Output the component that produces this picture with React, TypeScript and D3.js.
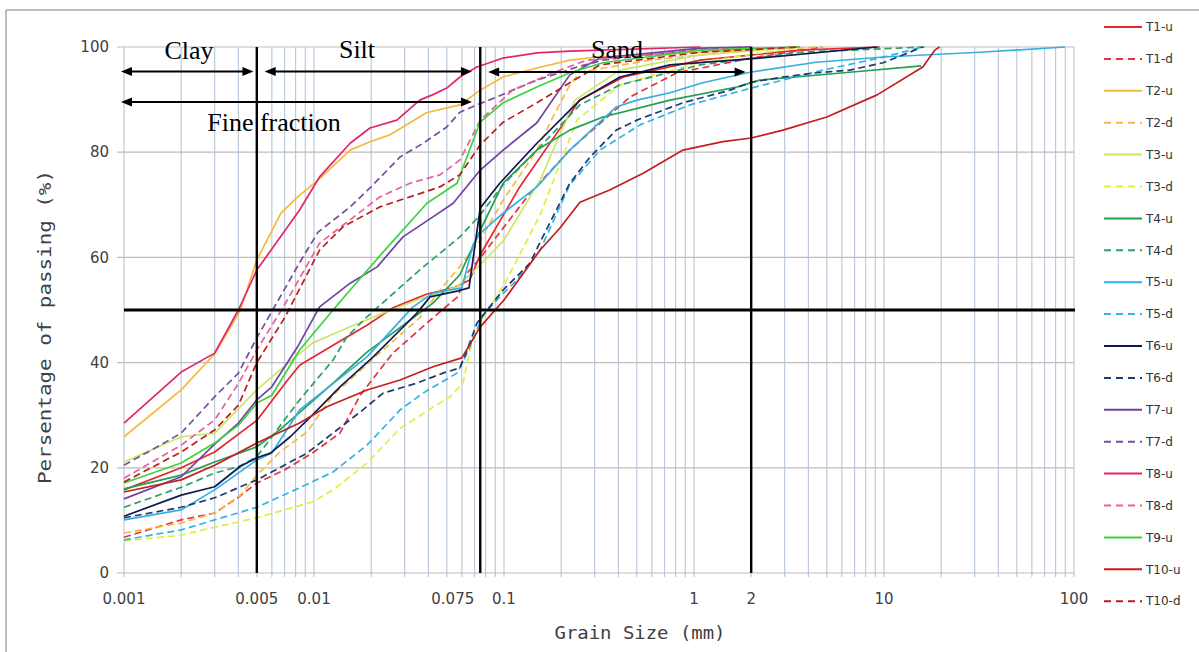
import React from 'react';
import * as d3 from 'd3';

type Pt = [number, number];

// ---- axis ticks ----
const xTickValues = [0.001, 0.005, 0.01, 0.075, 0.1, 1, 2, 10, 100];
const xTickLabels = ['0.001', '0.005', '0.01', '0.075', '0.1', '1', '2', '10', '100'];
const yTickValues = [0, 20, 40, 60, 80, 100];

// ---- grain size distributions: [size (mm), percent passing] ----
const T1u: Pt[] = [[0.001,15.8],[0.002,20],[0.003,23],[0.005,29],[0.0072,36.5],[0.0084,39.5],[0.0126,43.3],[0.019,47.1],[0.026,50.4],[0.039,53],[0.054,54.2],[0.066,55.7],[0.075,60.5],[0.121,73.4],[0.25,89.9],[0.425,94.3],[1.08,97.5],[3.6,99.4],[9.5,100]];
const T1d: Pt[] = [[0.001,6.8],[0.002,10.1],[0.003,11.4],[0.004,14.4],[0.005,17.1],[0.007,19.6],[0.0098,22.8],[0.0137,26.6],[0.0175,33.8],[0.026,41.8],[0.041,48.1],[0.057,52.5],[0.064,57],[0.075,59.9],[0.137,72.2],[0.222,80.4],[0.46,90.5],[0.815,95.1],[2,97.9],[4.75,100]];
const T2u: Pt[] = [[0.001,25.9],[0.002,34.8],[0.0028,40.5],[0.003,41.6],[0.0041,50],[0.005,59.5],[0.0067,68.4],[0.0082,71.5],[0.0105,74.7],[0.0155,80.4],[0.0197,82],[0.0251,83.3],[0.032,85.6],[0.039,87.5],[0.0586,89],[0.075,91.8],[0.099,94.3],[0.149,96],[0.222,97.5],[0.31,98.1],[1.08,99],[3.6,100]];
const T2d: Pt[] = [[0.001,7.6],[0.002,9.5],[0.003,11.4],[0.0041,14.8],[0.005,18.6],[0.0066,23],[0.0092,26.8],[0.0126,33.8],[0.0215,41.4],[0.036,48.5],[0.046,53.8],[0.0566,57.6],[0.075,63.3],[0.099,70.9],[0.149,80.4],[0.181,86.7],[0.222,92.8],[0.251,95.2],[0.586,97.5],[2,99.4],[4.75,100]];
const T3u: Pt[] = [[0.001,21.1],[0.002,25.9],[0.003,26.6],[0.005,34.8],[0.006,37.3],[0.0098,43.7],[0.0155,46.8],[0.0231,49.4],[0.0348,51.9],[0.0566,54.4],[0.075,58.6],[0.1,63.3],[0.155,74.7],[0.236,89.9],[0.408,95.6],[1.08,98.5],[3.6,100]];
const T3d: Pt[] = [[0.001,6.1],[0.002,7.2],[0.003,8.7],[0.005,10.5],[0.0098,13.5],[0.0126,15.8],[0.019,20.9],[0.0284,27.5],[0.0423,31.5],[0.052,33.5],[0.0608,36.1],[0.0662,42.4],[0.075,47.7],[0.1,54.8],[0.155,68.1],[0.242,86.1],[0.408,92.8],[1.08,97.1],[3.6,100]];
const T4u: Pt[] = [[0.001,16],[0.002,18.6],[0.003,21.1],[0.005,24],[0.0066,27.2],[0.0126,36.1],[0.019,42],[0.0423,51.3],[0.0586,56.7],[0.075,65.2],[0.099,74.1],[0.149,80.4],[0.222,84.2],[0.332,86.7],[0.748,89.9],[1.68,92.4],[2.22,93.7],[6.6,95.2],[15.7,96.4]];
const T4d: Pt[] = [[0.001,12.5],[0.002,16.3],[0.003,19],[0.004,20.2],[0.005,22.1],[0.0084,32.9],[0.0126,40.5],[0.0149,44.9],[0.019,48.7],[0.036,57.6],[0.0586,63.9],[0.075,68.1],[0.099,73.8],[0.149,80.4],[0.251,89],[0.408,92.8],[1.08,96.6],[3.6,99],[16.4,100]];
const T5u: Pt[] = [[0.001,10.1],[0.002,12],[0.003,15.8],[0.005,21.5],[0.006,22.8],[0.0084,31],[0.019,41.1],[0.0332,50.6],[0.0423,53.2],[0.06,54.2],[0.0687,62.4],[0.075,64.6],[0.099,68.4],[0.149,73.4],[0.222,80.4],[0.39,88.6],[0.5,89.9],[0.748,91.3],[1.11,93.2],[1.97,95.2],[4.4,97.1],[9.9,98.1],[32,99],[89.7,100]];
const T5d: Pt[] = [[0.001,6.3],[0.002,8.2],[0.003,10.1],[0.005,12.5],[0.0084,16.2],[0.0126,19.2],[0.019,24.3],[0.0284,31],[0.0375,34.2],[0.046,36.1],[0.0566,38],[0.064,41.8],[0.0775,49],[0.095,52.5],[0.117,55.7],[0.155,61.4],[0.222,73.8],[0.32,80.4],[0.52,85.2],[0.953,89],[2,92.2],[4.75,95.6],[9.5,97.9],[16,100]];
const T6u: Pt[] = [[0.001,10.8],[0.002,14.8],[0.003,16.4],[0.0041,20.3],[0.005,21.9],[0.0059,22.8],[0.0075,25.9],[0.0098,30],[0.0137,35.4],[0.0205,41.1],[0.0284,46.2],[0.0348,49.4],[0.0408,52.5],[0.0566,53.6],[0.0654,54.2],[0.075,69.4],[0.095,74.1],[0.149,81.7],[0.251,89.9],[0.408,94.3],[0.748,96.6],[2.22,97.9],[9.2,100]];
const T6d: Pt[] = [[0.001,10.5],[0.002,12.5],[0.003,14.3],[0.005,17.7],[0.0092,22.8],[0.0175,30.6],[0.0231,34.2],[0.0348,36.1],[0.0477,38],[0.0586,39],[0.064,42.4],[0.072,47.5],[0.084,50.6],[0.099,53.8],[0.137,58.9],[0.16,63.9],[0.222,74.1],[0.284,79.1],[0.39,84.2],[0.5,86.1],[0.875,89.4],[1.55,91.8],[2,93.3],[2.94,94.3],[4.4,95.1],[6.6,95.6],[9.9,97],[16,100]];
const T7u: Pt[] = [[0.001,14.1],[0.002,18.3],[0.003,24.5],[0.004,28.5],[0.005,32.9],[0.006,35.4],[0.0082,43],[0.0107,50.6],[0.0155,55.1],[0.0215,58.2],[0.0294,63.9],[0.0423,67.7],[0.054,70.3],[0.075,76.6],[0.099,80.4],[0.149,85.6],[0.222,94.7],[0.32,97.9],[1.08,99.8],[2,100]];
const T7d: Pt[] = [[0.001,20.5],[0.0015,24],[0.002,26.6],[0.003,33.5],[0.004,38],[0.005,44.7],[0.0084,59],[0.0105,64.8],[0.0155,69.6],[0.0197,73.2],[0.0284,79.1],[0.0375,81.7],[0.05,84.8],[0.0586,87.6],[0.072,89],[0.0918,90.5],[0.111,91.8],[0.149,93.7],[0.197,95.1],[0.242,96.2],[0.332,97.5],[1.08,99.6],[2,100]];
const T8u: Pt[] = [[0.001,28.5],[0.002,38.2],[0.003,41.8],[0.004,50],[0.005,57.6],[0.0084,69],[0.0107,75.3],[0.0155,81.7],[0.0197,84.6],[0.0273,86.1],[0.036,89.9],[0.042,90.9],[0.05,92.2],[0.0586,94.3],[0.072,96.2],[0.099,97.9],[0.149,98.9],[0.222,99.2],[1.08,100]];
const T8d: Pt[] = [[0.001,18],[0.002,24.3],[0.003,29.1],[0.004,36],[0.005,42.4],[0.007,51],[0.0107,62.7],[0.0222,71.5],[0.032,74.1],[0.046,75.7],[0.0586,78.5],[0.075,86.1],[0.111,91.8],[0.181,95.1],[0.273,97.5],[1.08,99.4],[3.6,100]];
const T9u: Pt[] = [[0.001,17.1],[0.002,20.9],[0.003,24.7],[0.004,28.1],[0.005,32.3],[0.006,33.8],[0.0084,42.4],[0.0126,50],[0.0155,53.8],[0.0231,61],[0.0393,70.3],[0.0566,74.1],[0.0748,85.7],[0.099,89.4],[0.149,92.4],[0.222,95.1],[0.332,97],[1.08,99.4],[3.6,100]];
const T10u: Pt[] = [[0.001,15.4],[0.002,17.7],[0.003,20.5],[0.005,24.7],[0.0084,28.5],[0.0117,31.6],[0.019,34.8],[0.0284,36.7],[0.0423,39.2],[0.06,40.9],[0.075,46.8],[0.1,51.9],[0.155,61.4],[0.197,65.6],[0.251,70.5],[0.36,72.8],[0.54,76],[0.875,80.4],[1.42,82],[2,82.7],[2.94,84.2],[5,86.7],[9.2,90.9],[16,96.2],[18.5,99.4],[19.6,100]];
const T10d: Pt[] = [[0.001,17.3],[0.002,23],[0.003,27.2],[0.004,31.9],[0.005,40],[0.007,48.5],[0.0107,61.4],[0.0142,65.8],[0.0222,69.6],[0.046,73.4],[0.0586,75.7],[0.075,81.4],[0.099,85.7],[0.149,89.4],[0.222,93.2],[0.32,96.6],[1.08,99],[3.6,100]];

const seriesNames = ['T1-u','T1-d','T2-u','T2-d','T3-u','T3-d','T4-u','T4-d','T5-u','T5-d','T6-u','T6-d','T7-u','T7-d','T8-u','T8-d','T9-u','T10-u','T10-d'];
const seriesData = [T1u,T1d,T2u,T2d,T3u,T3d,T4u,T4d,T5u,T5d,T6u,T6d,T7u,T7d,T8u,T8d,T9u,T10u,T10d];
const seriesColors = ['#e8262c','#e3333f','#f5b83d','#f5bb45','#cfe566','#e0ee3c','#21a04d','#2e9e6b','#35b0e0','#2fb5e6','#0e1b4d','#1f3a6e','#7142a0','#7a4c9c','#e3266a','#e8609a','#3dd33d','#c41e1e','#bb1d1d'];
const seriesDashed = [false,true,false,true,false,true,false,true,false,true,false,true,false,true,false,true,false,false,true];

// reference boundaries (mm, %)
const boundarySizes = [0.005, 0.075, 2];
const boundaryPercent = 50;

const Arrow = ({ x1, x2, yy }: { x1: number; x2: number; yy: number }) => {
  const L = 11, h = 4.5;
  return (
    <g>
      <line x1={x1 + 4} x2={x2 - 4} y1={yy} y2={yy} stroke="#000" strokeWidth={2.2} />
      <polygon points={`${x1},${yy} ${x1 + L},${yy - h} ${x1 + L},${yy + h}`} fill="#000" />
      <polygon points={`${x2},${yy} ${x2 - L},${yy - h} ${x2 - L},${yy + h}`} fill="#000" />
    </g>
  );
};

export default function App() {
  const x = d3.scaleLog().domain([0.001, 100]).range([124, 1074]);
  const y = d3.scaleLinear().domain([0, 100]).range([573, 47]);
  const line = d3.line<Pt>().x(d => x(d[0])).y(d => y(d[1]));

  const minor: number[] = [];
  [0.001, 0.01, 0.1, 1, 10].forEach(d => {
    for (let k = 1; k <= 9; k++) minor.push(d * k);
  });
  minor.push(100);

  const tickFont = 'DejaVu Sans, Verdana, sans-serif';
  const serif = 'Liberation Serif, Times New Roman, serif';
  const mono = 'DejaVu Sans Mono, monospace';

  return (
    <svg width={1199} height={652} style={{ position: 'absolute', left: 0, top: 0, background: '#fff' }}>
      <rect x={0} y={0} width={1199} height={652} fill="#fff" />
      {/* outer frame */}
      <line x1={6} x2={1199} y1={10} y2={10} stroke="#a8a8a8" strokeWidth={1.5} />
      <line x1={6} x2={6} y1={10} y2={652} stroke="#a8a8a8" strokeWidth={1.5} />

      {/* grid */}
      {minor.map((v, i) => (
        <line key={'vx' + i} x1={x(v)} x2={x(v)} y1={y(100)} y2={y(0) + 4} stroke="#bccadb" strokeWidth={1.2} />
      ))}
      {yTickValues.map(v => (
        <line key={'hy' + v} x1={x(0.001) - 7} x2={x(100)} y1={y(v)} y2={y(v)} stroke="#bdbdbd" strokeWidth={1.2} />
      ))}

      {/* series */}
      {seriesData.map((d, i) => (
        <path key={seriesNames[i]} d={line(d) || ''} fill="none" stroke={seriesColors[i]} strokeWidth={1.7}
          strokeDasharray={seriesDashed[i] ? '7,4' : undefined} strokeLinejoin="round" />
      ))}

      {/* boundaries */}
      {boundarySizes.map(v => (
        <line key={'b' + v} x1={x(v)} x2={x(v)} y1={y(100)} y2={y(0)} stroke="#000" strokeWidth={2.4} />
      ))}
      <line x1={x(0.001)} x2={x(100) + 1} y1={y(boundaryPercent)} y2={y(boundaryPercent)} stroke="#000" strokeWidth={3} />

      {/* annotations */}
      <Arrow x1={x(0.001) - 3} x2={x(0.0048)} yy={71.5} />
      <Arrow x1={x(0.0055)} x2={x(0.0678)} yy={71.5} />
      <Arrow x1={x(0.0825)} x2={x(1.87)} yy={72} />
      <Arrow x1={x(0.001) - 3} x2={x(0.0678)} yy={102} />
      <text x={189} y={59} fontFamily={serif} fontSize={26} textAnchor="middle" fill="#000">Clay</text>
      <text x={357} y={58} fontFamily={serif} fontSize={26} textAnchor="middle" fill="#000">Silt</text>
      <text x={617} y={58} fontFamily={serif} fontSize={26} textAnchor="middle" fill="#000">Sand</text>
      <text x={274} y={131} fontFamily={serif} fontSize={26} textAnchor="middle" fill="#000">Fine fraction</text>

      {/* y tick labels */}
      {yTickValues.map(v => (
        <text key={'yl' + v} x={109} y={y(v)} dy="0.35em" textAnchor="end" fontFamily={tickFont} fontSize={15} fill="#404040">{v}</text>
      ))}
      {/* x tick labels */}
      {xTickValues.map((v, i) => (
        <text key={'xl' + v} x={v === 0.075 ? x(v) - 6 : x(v)} y={599} dy="0.35em"
          textAnchor={v === 0.075 ? 'end' : 'middle'} fontFamily={tickFont} fontSize={15} fill="#404040">{xTickLabels[i]}</text>
      ))}

      {/* axis titles */}
      <text x={640} y={633} dy="0.35em" textAnchor="middle" fontFamily={mono} fontSize={18} fill="#404040"
        textLength={171} lengthAdjust="spacingAndGlyphs">Grain Size (mm)</text>
      <text transform="translate(45,327) rotate(-90)" dy="0.35em" textAnchor="middle" fontFamily={mono} fontSize={18}
        fill="#404040" textLength={314} lengthAdjust="spacingAndGlyphs">Persentage of passing (%)</text>

      {/* legend */}
      {seriesNames.map((n, i) => {
        const ly = 27 + i * 31.9;
        return (
          <g key={'lg' + n}>
            <line x1={1104} x2={1142} y1={ly} y2={ly} stroke={seriesColors[i]} strokeWidth={2}
              strokeDasharray={seriesDashed[i] ? '7,5' : undefined} />
            <text x={1146} y={ly} dy="0.35em" fontFamily={tickFont} fontSize={12} fill="#333">{n}</text>
          </g>
        );
      })}
    </svg>
  );
}
